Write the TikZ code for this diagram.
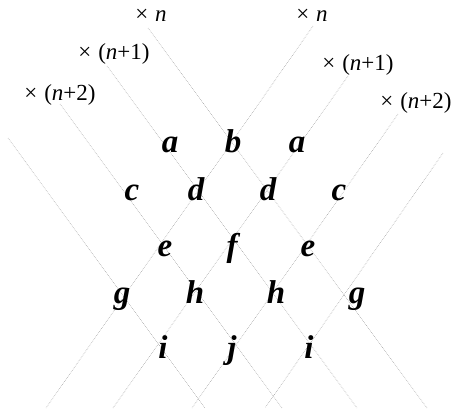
\documentclass[tikz,border=0pt]{standalone}
\usepackage{fontspec}
\setmainfont{Liberation Serif}
\begin{document}
\begin{tikzpicture}[x=1pt,y=-1pt,
  guide/.style={gray!70, line width=0.6pt, dash pattern=on 0.6pt off 1.1pt},
  lbl/.style={font=\fontsize{23}{26}\selectfont, inner sep=0pt},
  letter/.style={font=\fontsize{33}{36}\selectfont\bfseries\itshape, inner sep=0pt, anchor=base}]
\useasboundingbox (0,0) rectangle (456,410);
% line end points
\coordinate (dr1s) at (148,28);  \coordinate (dr1e) at (427,408);
\coordinate (dr2s) at (107,66);  \coordinate (dr2e) at (357,408);
\coordinate (dr3s) at (60,104);  \coordinate (dr3e) at (282,408);
\coordinate (dr4s) at (8,138);   \coordinate (dr4e) at (205,408);
\coordinate (ul1s) at (313,26);  \coordinate (ul1e) at (46,408);
\coordinate (ul2s) at (348,76);  \coordinate (ul2e) at (113,408);
\coordinate (ul3s) at (398,114); \coordinate (ul3e) at (192,408);
\coordinate (ul4s) at (443,153); \coordinate (ul4e) at (265,408);
\foreach \k in {1,2,3,4}{
  \draw[guide] (dr\k s) -- (dr\k e);
  \draw[guide] (ul\k s) -- (ul\k e);
}
% labels
\node[lbl] (ln0) at (151,15) {×\hspace{0.3em}\textit{n}};
\node[lbl] (rn0) at (312,15) {×\hspace{0.3em}\textit{n}};
\node[lbl] (ln1) at (114,54) {×\hspace{0.3em}(\textit{n}+1)};
\node[lbl] (rn1) at (358,65) {×\hspace{0.3em}(\textit{n}+1)};
\node[lbl] (ln2) at (60,95) {×\hspace{0.3em}(\textit{n}+2)};
\node[lbl] (rn2) at (416,103) {×\hspace{0.3em}(\textit{n}+2)};
% letters
\node[letter] (a1) at (170,152) {a};
\node[letter] (b1) at (233,152) {b};
\node[letter] (a2) at (297,152) {a};
\node[letter] (c1) at (132,200) {c};
\node[letter] (d1) at (196,200) {d};
\node[letter] (d2) at (268,200) {d};
\node[letter] (c2) at (339,200) {c};
\node[letter] (e1) at (165,256) {e};
\node[letter] (f1) at (232,256) {f};
\node[letter] (e2) at (308,256) {e};
\node[letter] (g1) at (122,303) {g};
\node[letter] (h1) at (195,303) {h};
\node[letter] (h2) at (276,303) {h};
\node[letter] (g2) at (357,303) {g};
\node[letter] (i1) at (163,358) {i};
\node[letter] (j1) at (232,358) {j};
\node[letter] (i2) at (309,358) {i};
\end{tikzpicture}
\end{document}
